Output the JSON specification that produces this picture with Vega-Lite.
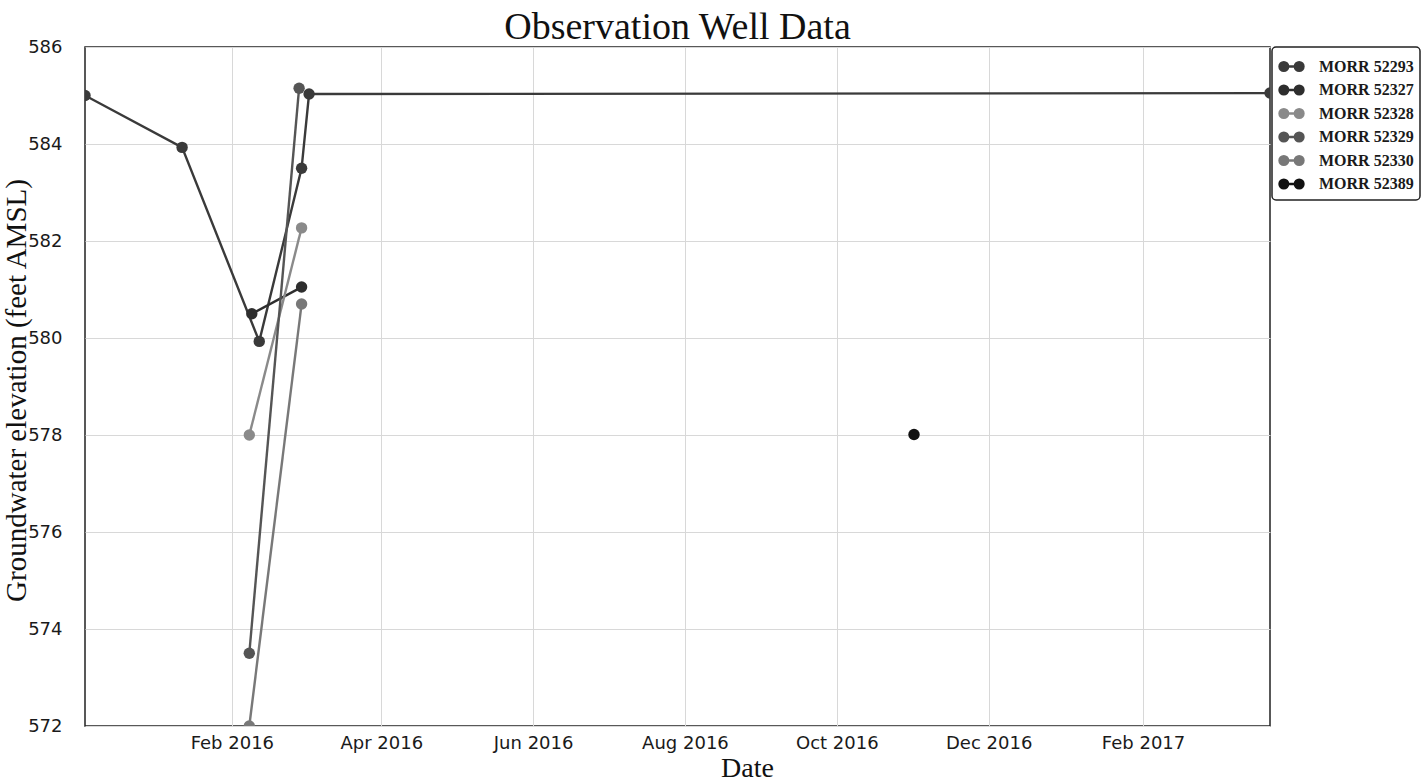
{
  "$schema": "https://vega.github.io/schema/vega-lite/v6.json",
  "width": 1185,
  "height": 679,
  "autosize": "none",
  "padding": {"left": 85, "top": 47, "right": 158, "bottom": 58},
  "background": "white",
  "title": {"text": "Observation Well Data", "font": "Liberation Serif", "fontSize": 38, "fontWeight": "normal", "color": "#111111", "anchor": "middle", "dy": 13},
  "config": {
    "view": {"stroke": "#222222", "strokeWidth": 1.5},
    "axis": {"gridColor": "#d8d8d8", "gridWidth": 1, "ticks": false, "domain": false, "labelFont": "DejaVu Sans", "labelFontSize": 18, "labelColor": "#1a1a1a", "titleFont": "Liberation Serif", "titleFontWeight": "normal", "titleColor": "#111111"},
    "legend": {"strokeColor": "#222222", "strokeWidth": 1.5, "cornerRadius": 4, "padding": 6, "fillColor": "white", "labelFont": "Liberation Serif", "labelFontWeight": "bold", "labelFontSize": 16, "labelColor": "#1a1a1a", "rowPadding": 0.5, "labelOffset": 14, "offset": 2}
  },
  "data": {
    "values": [
      {"well": "MORR 52293", "date": "2015-12-04", "elev": 585.0},
      {"well": "MORR 52293", "date": "2016-01-12", "elev": 583.93},
      {"well": "MORR 52293", "date": "2016-02-12", "elev": 579.93},
      {"well": "MORR 52293", "date": "2016-02-29", "elev": 583.5},
      {"well": "MORR 52293", "date": "2016-03-03", "elev": 585.03},
      {"well": "MORR 52293", "date": "2017-03-24", "elev": 585.05},
      {"well": "MORR 52327", "date": "2016-02-09", "elev": 580.5},
      {"well": "MORR 52327", "date": "2016-02-29", "elev": 581.05},
      {"well": "MORR 52328", "date": "2016-02-08", "elev": 578.0},
      {"well": "MORR 52328", "date": "2016-02-29", "elev": 582.27},
      {"well": "MORR 52329", "date": "2016-02-08", "elev": 573.5},
      {"well": "MORR 52329", "date": "2016-02-28", "elev": 585.15},
      {"well": "MORR 52330", "date": "2016-02-08", "elev": 572.0},
      {"well": "MORR 52330", "date": "2016-02-29", "elev": 580.7},
      {"well": "MORR 52389", "date": "2016-11-01", "elev": 578.01}
    ]
  },
  "encoding": {
    "x": {
      "field": "date", "type": "temporal",
      "scale": {"type": "utc", "domain": [{"year": 2015, "month": 12, "date": 4, "utc": true}, {"year": 2017, "month": 3, "date": 24, "utc": true}]},
      "axis": {
        "title": "Date", "titleFontSize": 28, "titlePadding": 2, "titleX": 662,
        "labelExpr": "utcFormat(datum.value, '%b %Y')", "labelPadding": 8, "labelFlush": false, "labelOverlap": false,
        "values": [
          {"year": 2016, "month": 2, "date": 1, "utc": true},
          {"year": 2016, "month": 4, "date": 1, "utc": true},
          {"year": 2016, "month": 6, "date": 1, "utc": true},
          {"year": 2016, "month": 8, "date": 1, "utc": true},
          {"year": 2016, "month": 10, "date": 1, "utc": true},
          {"year": 2016, "month": 12, "date": 1, "utc": true},
          {"year": 2017, "month": 2, "date": 1, "utc": true}
        ]
      }
    },
    "y": {
      "field": "elev", "type": "quantitative",
      "scale": {"domain": [572, 586], "nice": false, "zero": false},
      "axis": {"title": "Groundwater elevation (feet AMSL)", "titleFontSize": 29, "titleX": -69, "titleY": 343, "titleAngle": -90, "titleAlign": "center", "titleBaseline": "middle", "values": [572, 574, 576, 578, 580, 582, 584, 586], "labelPadding": 23, "labelFlush": false}
    },
    "color": {
      "field": "well", "type": "nominal",
      "scale": {
        "domain": ["MORR 52293", "MORR 52327", "MORR 52328", "MORR 52329", "MORR 52330", "MORR 52389"],
        "range": ["#3a3a3a", "#2e2e2e", "#8a8a8a", "#555555", "#787878", "#111111"]
      },
      "legend": {
        "title": null,
        "symbolType": "M -1 0 A 0.36 0.36 0 1 0 -0.28 0 A 0.36 0.36 0 1 0 -1 0 Z M -0.64 0 L 0.64 0 M 0.28 0 A 0.36 0.36 0 1 0 1 0 A 0.36 0.36 0 1 0 0.28 0 Z",
        "symbolSize": 576,
        "symbolStrokeWidth": 1.8,
        "encode": {"symbols": {"update": {"fill": {"scale": "color", "field": "value"}, "stroke": {"scale": "color", "field": "value"}, "opacity": {"value": 1}}}}
      }
    }
  },
  "layer": [
    {
      "mark": {"type": "line", "clip": true},
      "encoding": {
        "strokeWidth": {
          "field": "well", "type": "nominal", "legend": null,
          "scale": {"domain": ["MORR 52293", "MORR 52327", "MORR 52328", "MORR 52329", "MORR 52330", "MORR 52389"], "range": [2.4, 2.4, 1.3, 2.6, 1.9, 1]}
        }
      }
    },
    {
      "mark": {"type": "point", "filled": true, "size": 130, "opacity": 1, "clip": true}
    }
  ]
}
